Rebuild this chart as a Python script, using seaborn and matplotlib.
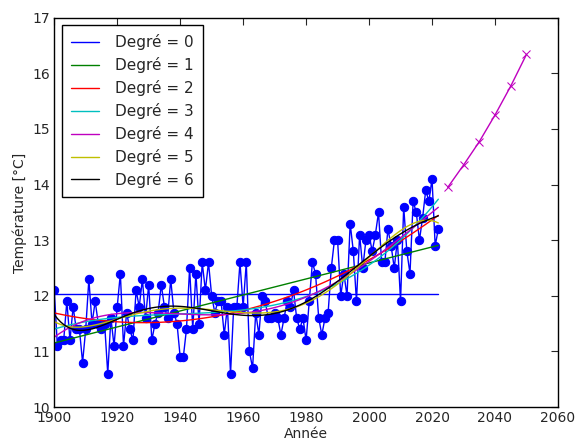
import numpy as np
import pandas as pd
import matplotlib
matplotlib.use("Agg")
import matplotlib.pyplot as plt
import seaborn as sns

# Annual mean temperature (one value per year, 1900-2022)
years = np.arange(1900, 2023)
temps = [
    12.1, 11.1, 11.2, 11.2, 11.9, 11.2, 11.8, 11.4, 11.4, 10.8,  # 1900s
    11.4, 12.3, 11.5, 11.9, 11.5, 11.4, 11.5, 10.6, 11.6, 11.1,  # 1910s
    11.8, 12.4, 11.1, 11.7, 11.4, 11.2, 12.1, 11.8, 12.3, 11.6,  # 1920s
    12.2, 11.2, 11.5, 11.7, 12.2, 11.8, 11.6, 12.3, 11.7, 11.5,  # 1930s
    10.9, 10.9, 11.4, 12.5, 11.4, 12.4, 11.5, 12.6, 12.1, 12.6,  # 1940s
    12.0, 11.7, 11.9, 11.9, 11.3, 11.8, 10.6, 11.8, 11.8, 12.6,  # 1950s
    11.8, 12.6, 11.0, 10.7, 11.7, 11.3, 12.0, 11.9, 11.6, 11.6,  # 1960s
    11.7, 11.6, 11.3, 11.6, 11.9, 11.8, 12.1, 11.6, 11.4, 11.6,  # 1970s
    11.2, 11.9, 12.6, 12.4, 11.6, 11.3, 11.6, 11.7, 12.5, 13.0,  # 1980s
    13.0, 12.0, 12.4, 12.0, 13.3, 12.8, 11.9, 13.1, 12.5, 13.0,  # 1990s
    13.1, 12.8, 13.1, 13.5, 12.6, 12.6, 13.2, 12.9, 12.5, 13.0,  # 2000s
    11.9, 13.6, 12.8, 12.4, 13.7, 13.5, 13.0, 13.4, 13.9, 13.7,  # 2010s
    14.1, 12.9, 13.2,                                            # 2020s
]

# Degree-4 extrapolation shown in magenta with x markers
future_years = [2025, 2030, 2035, 2040, 2045, 2050]
future_temps = [13.95, 14.35, 14.77, 15.25, 15.77, 16.34]

degrees = [0, 1, 2, 3, 4, 5, 6]
colors = ['b', 'g', 'r', 'c', 'm', 'y', 'k']

df = pd.DataFrame({"year": years, "temp": temps})

sns.set_style("white")
plt.rcParams['font.family'] = ['DejaVu Sans']

fig = plt.figure(figsize=(5.77, 4.42), dpi=100)
ax = fig.add_axes([0.094, 0.079, 0.873, 0.881])

# observed data
sns.lineplot(data=df, x="year", y="temp", color='b', marker='o', markersize=6,
             markeredgecolor='b', linewidth=1, ax=ax)

# polynomial fits
for d, c in zip(degrees, colors):
    p = np.polynomial.Polynomial.fit(df["year"], df["temp"], d)
    sns.lineplot(x=df["year"], y=p(df["year"]), color=c, linewidth=1,
                 label="Degré = %d" % d, ax=ax)

sns.lineplot(x=future_years, y=future_temps, color='m', marker='x', markersize=6,
             markeredgecolor='m', linewidth=1, ax=ax)

ax.set_xlim(1900, 2060)
ax.set_ylim(10, 17)
ax.set_xticks(range(1900, 2061, 20))
ax.set_yticks(range(10, 18))
ax.tick_params(direction='in', top=True, right=True, length=5, labelsize=10, pad=3)
for s in ax.spines.values():
    s.set_color('black')
    s.set_linewidth(1)
ax.set_xlabel("Année", fontsize=10, labelpad=1)
ax.set_ylabel("Température [°C]", fontsize=10, labelpad=4)

leg = ax.legend(loc='upper left', fontsize=11, handlelength=1.8, borderpad=0.6,
                labelspacing=0.45, handletextpad=1.1, fancybox=False, framealpha=1,
                edgecolor='black', borderaxespad=0.5)
leg.get_frame().set_linewidth(1)

fig.savefig("out.png", dpi=100, facecolor='white')
